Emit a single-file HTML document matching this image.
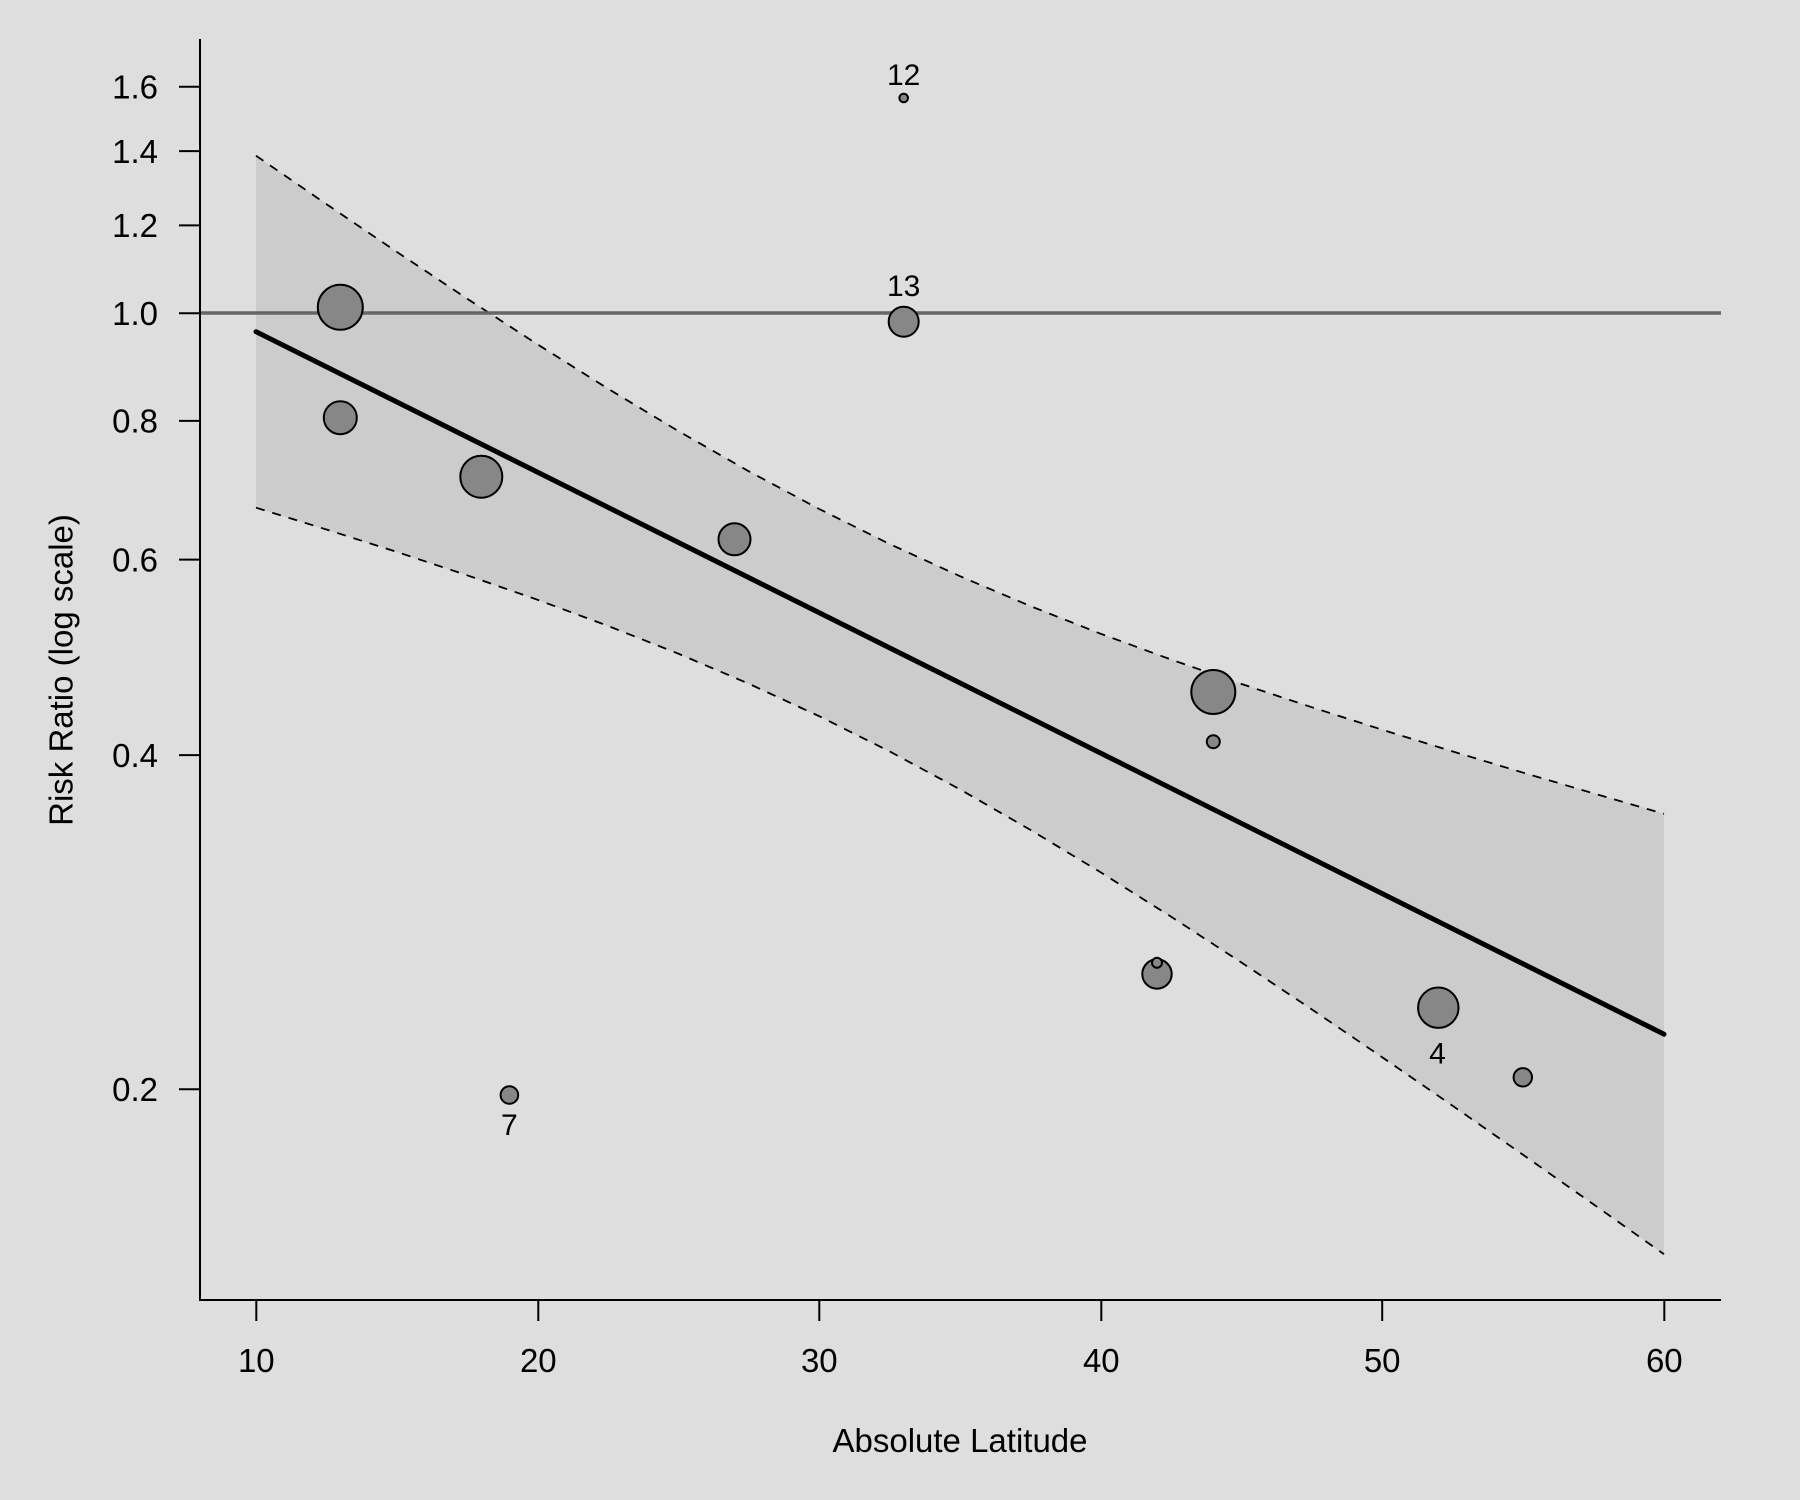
<!DOCTYPE html>
<html>
<head>
<meta charset="utf-8">
<style>
  html, body { margin:0; padding:0; background:#dedede; }
  svg { display:block; }
  text { font-family: "Liberation Sans", Arial, sans-serif; fill:#000; }
</style>
</head>
<body>
<svg width="1800" height="1500" viewBox="0 0 1800 1500" xmlns="http://www.w3.org/2000/svg">
  <rect x="0" y="0" width="1800" height="1500" fill="#dedede"/>

  <!-- confidence band -->
  <polygon fill="#cccccc" points="256,155.7 326.4,204.1 396.8,251.9 467.2,298.7 537.6,344.4 608,388.7 678.4,431.1 748.8,471.3 819.2,509.0 889.6,544.0 960,576.2 1030.4,606.1 1100.8,633.8 1171.2,659.6 1241.6,684.0 1312,707.3 1382.4,729.8 1452.8,751.5 1523.2,772.7 1593.6,793.4 1664,813.8 1664,1254.2 1593.6,1204.4 1523.2,1154.9 1452.8,1105.9 1382.4,1057.4 1312,1009.5 1241.6,962.6 1171.2,916.8 1100.8,872.4 1030.4,829.9 960,789.4 889.6,751.4 819.2,716.2 748.8,683.7 678.4,653.7 608,625.9 537.6,599.8 467.2,575.3 396.8,551.9 326.4,529.5 256,507.7"/>

  <!-- dashed CI lines -->
  <polyline fill="none" stroke="#000" stroke-width="1.8" stroke-dasharray="9,8" points="256,155.7 326.4,204.1 396.8,251.9 467.2,298.7 537.6,344.4 608,388.7 678.4,431.1 748.8,471.3 819.2,509.0 889.6,544.0 960,576.2 1030.4,606.1 1100.8,633.8 1171.2,659.6 1241.6,684.0 1312,707.3 1382.4,729.8 1452.8,751.5 1523.2,772.7 1593.6,793.4 1664,813.8"/>
  <polyline fill="none" stroke="#000" stroke-width="1.8" stroke-dasharray="9,8" points="256,507.7 326.4,529.5 396.8,551.9 467.2,575.3 537.6,599.8 608,625.9 678.4,653.7 748.8,683.7 819.2,716.2 889.6,751.4 960,789.4 1030.4,829.9 1100.8,872.4 1171.2,916.8 1241.6,962.6 1312,1009.5 1382.4,1057.4 1452.8,1105.9 1523.2,1154.9 1593.6,1204.4 1664,1254.2"/>

  <!-- reference line at 1.0 -->
  <line x1="200" y1="313" x2="1721" y2="313" stroke="#666666" stroke-width="3.5"/>

  <!-- regression line -->
  <line x1="256" y1="331.7" x2="1664" y2="1034.2" stroke="#000" stroke-width="5" stroke-linecap="round"/>

  <!-- points -->
  <g fill="#878787" stroke="#000" stroke-width="2">
    <circle cx="340.3" cy="307.3" r="22.5"/>
    <circle cx="340.3" cy="417.7" r="16.5"/>
    <circle cx="481.3" cy="476.7" r="21"/>
    <circle cx="734.5" cy="539.3" r="16"/>
    <circle cx="903.7" cy="98" r="4.3"/>
    <circle cx="903.7" cy="321.7" r="15"/>
    <circle cx="1213.3" cy="692" r="22"/>
    <circle cx="1213.3" cy="741.7" r="6.5"/>
    <circle cx="1157" cy="974" r="14.7"/>
    <circle cx="1157" cy="962.7" r="5"/>
    <circle cx="1438.3" cy="1007.7" r="20.2"/>
    <circle cx="1522.8" cy="1077.3" r="9.2"/>
    <circle cx="509.4" cy="1095" r="8.8"/>
  </g>

  <!-- point labels -->
  <g font-size="30" text-anchor="middle">
    <text x="903.7" y="85">12</text>
    <text x="903.7" y="296">13</text>
    <text x="1437.5" y="1063.5">4</text>
    <text x="509.4" y="1135">7</text>
  </g>

  <!-- axes -->
  <line x1="200" y1="39" x2="200" y2="1301" stroke="#000" stroke-width="2"/>
  <line x1="199" y1="1300" x2="1721" y2="1300" stroke="#000" stroke-width="2"/>

  <!-- y ticks -->
  <g stroke="#000" stroke-width="2">
    <line x1="179" y1="86.7" x2="200" y2="86.7"/>
    <line x1="179" y1="151.1" x2="200" y2="151.1"/>
    <line x1="179" y1="225.4" x2="200" y2="225.4"/>
    <line x1="179" y1="313.3" x2="200" y2="313.3"/>
    <line x1="179" y1="420.9" x2="200" y2="420.9"/>
    <line x1="179" y1="559.6" x2="200" y2="559.6"/>
    <line x1="179" y1="755.1" x2="200" y2="755.1"/>
    <line x1="179" y1="1089.2" x2="200" y2="1089.2"/>
  </g>
  <g font-size="33" text-anchor="end">
    <text x="158" y="98.5">1.6</text>
    <text x="158" y="162.9">1.4</text>
    <text x="158" y="237.2">1.2</text>
    <text x="158" y="325.1">1.0</text>
    <text x="158" y="432.7">0.8</text>
    <text x="158" y="571.4">0.6</text>
    <text x="158" y="766.9">0.4</text>
    <text x="158" y="1101">0.2</text>
  </g>

  <!-- x ticks -->
  <g stroke="#000" stroke-width="2">
    <line x1="256.3" y1="1300" x2="256.3" y2="1321"/>
    <line x1="538.3" y1="1300" x2="538.3" y2="1321"/>
    <line x1="819.3" y1="1300" x2="819.3" y2="1321"/>
    <line x1="1101.3" y1="1300" x2="1101.3" y2="1321"/>
    <line x1="1382.2" y1="1300" x2="1382.2" y2="1321"/>
    <line x1="1664.3" y1="1300" x2="1664.3" y2="1321"/>
  </g>
  <g font-size="33" text-anchor="middle">
    <text x="256.3" y="1372">10</text>
    <text x="538.3" y="1372">20</text>
    <text x="819.3" y="1372">30</text>
    <text x="1101.3" y="1372">40</text>
    <text x="1382.2" y="1372">50</text>
    <text x="1664.3" y="1372">60</text>
  </g>

  <!-- axis titles -->
  <text x="960" y="1452" font-size="33" text-anchor="middle">Absolute Latitude</text>
  <text transform="translate(72.5,670) rotate(-90)" font-size="33" text-anchor="middle">Risk Ratio (log scale)</text>
</svg>
</body>
</html>
